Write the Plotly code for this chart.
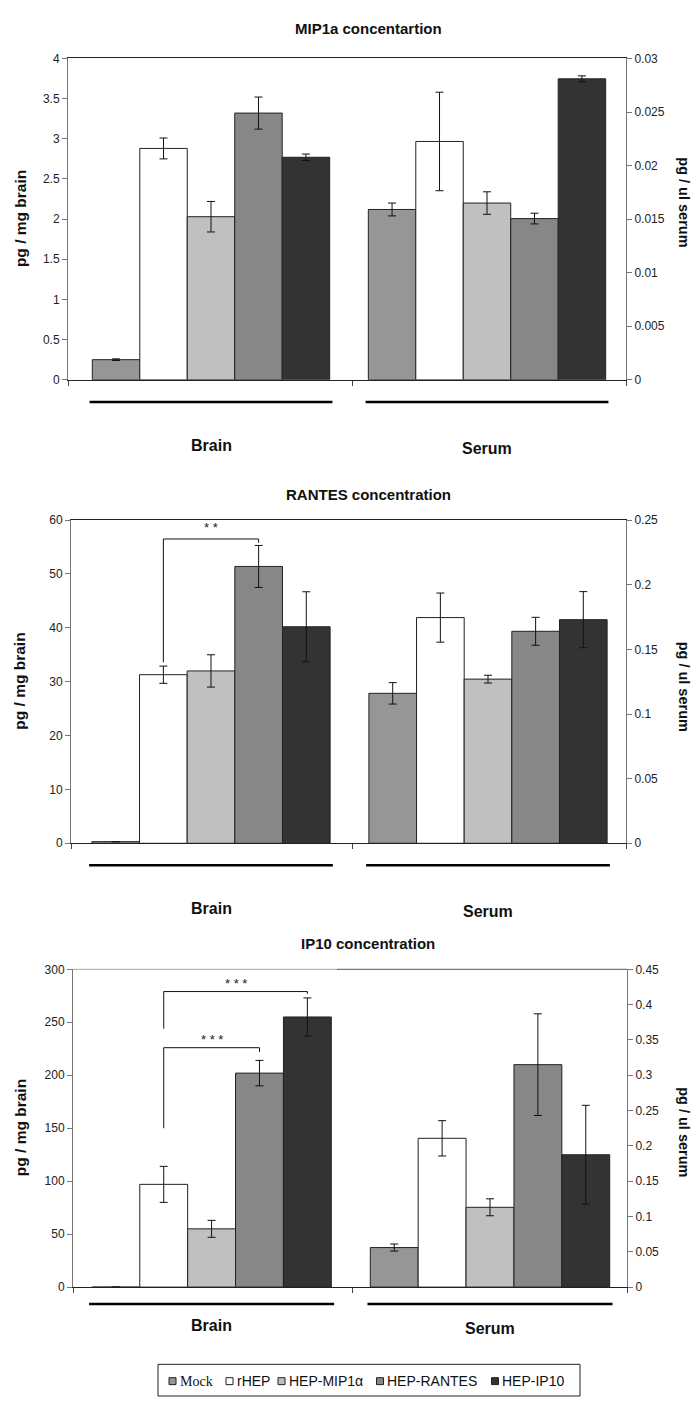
import plotly.graph_objects as go

W, H = 699, 1404

series = ["Mock", "rHEP", "HEP-MIP1α", "HEP-RANTES", "HEP-IP10"]
colors = ["#969696", "#FFFFFF", "#C0C0C0", "#878787", "#333333"]
groups = ["Brain", "Serum"]

# MIP1a
mip_brain = [0.25, 2.88, 2.03, 3.32, 2.77]
mip_brain_err = [0.01, 0.13, 0.19, 0.20, 0.04]
mip_serum = [0.0159, 0.02225, 0.0165, 0.01505, 0.0281]
mip_serum_err = [0.0006, 0.0046, 0.00105, 0.0005, 0.00028]

# RANTES
rantes_brain = [0.3, 31.3, 32.0, 51.4, 40.2]
rantes_brain_err = [0.0, 1.6, 3.0, 3.9, 6.5]
rantes_serum = [0.116, 0.1746, 0.127, 0.164, 0.173]
rantes_serum_err = [0.0083, 0.019, 0.003, 0.0108, 0.0217]

# IP10
ip10_brain = [0.0, 97.0, 55.0, 202.0, 255.0]
ip10_brain_err = [0.0, 17.0, 8.0, 12.0, 18.0]
ip10_serum = [0.056, 0.2107, 0.113, 0.315, 0.1874]
ip10_serum_err = [0.005, 0.025, 0.012, 0.072, 0.07]

charts = [
    dict(title="MIP1a concentartion", brain=mip_brain, brain_err=mip_brain_err,
         serum=mip_serum, serum_err=mip_serum_err, ymax=4, dtick=0.5, y2max=0.03, y2dtick=0.005,
         title_y=22, top=52, zero=376.5, ul=399, lab=(443, 446), left=68, right=626, bc=211, sc=487,
         rt_off=-17, top_line=None, brackets=[], stars=[]),
    dict(title="RANTES concentration", brain=rantes_brain, brain_err=rantes_brain_err,
         serum=rantes_serum, serum_err=rantes_serum_err, ymax=60, dtick=10, y2max=0.25, y2dtick=0.05,
         title_y=492, top=518.3, zero=844.7, ul=867, lab=(911, 914), left=71, right=626, bc=211, sc=488,
         rt_off=5, top_line=None, brackets=[(1, 3, 56.5, 33.6, 55.8)], stars=[(2, 58.6, "* *")]),
    dict(title="IP10 concentration", brain=ip10_brain, brain_err=ip10_brain_err,
         serum=ip10_serum, serum_err=ip10_serum_err, ymax=300, dtick=50, y2max=0.45, y2dtick=0.05,
         title_y=946, top=972, zero=1293, ul=1310, lab=(1332, 1335), left=73, right=627, bc=211.6, sc=490,
         rt_off=4, top_line=337, brackets=[(1, 4, 279, 244, 276.8), (1, 3, 226, 150, 222)],
         stars=[(2.5, 287, "* * *"), (2, 234, "* * *")]),
]

BW = 0.172  # bar width in category units
FONT = "Liberation Sans, Arial, sans-serif"

fig = go.Figure()
layout = dict(width=W, height=H, margin=dict(l=0, r=0, t=0, b=0),
              paper_bgcolor="white", plot_bgcolor="white", showlegend=False,
              shapes=[], annotations=[])


def py(v):
    return 1 - v / H


def ann(text, x, y, size, xref="paper", yref="paper", angle=0, family=FONT, color="#111",
        xanchor="center"):
    return dict(text=text, x=x, y=y, xref=xref, yref=yref, textangle=angle, showarrow=False,
                xanchor=xanchor, yanchor="middle", font=dict(family=family, size=size, color=color))


for k, c in enumerate(charts):
    n = k + 1
    xa = "x" if n == 1 else f"x{n}"
    ya = "y" if n == 1 else f"y{2*n-1}"
    yb = f"y{2*n}"
    unit = c["sc"] - c["bc"]
    lo = -(c["bc"] - c["left"]) / unit
    hi = 1 + (c["right"] - c["sc"]) / unit
    mid = (352 - c["bc"]) / unit
    offs = [(i - 2) * BW for i in range(len(series))]

    fig.add_trace(go.Bar(
        x=[0 + o for o in offs], y=c["brain"], width=BW,
        marker=dict(color=colors, line=dict(color="#222222", width=1)),
        error_y=dict(type="data", array=c["brain_err"], color="#111111", thickness=1, width=4),
        xaxis=xa, yaxis=ya, name="Brain", hoverinfo="y"))
    fig.add_trace(go.Bar(
        x=[1 + o for o in offs], y=c["serum"], width=BW,
        marker=dict(color=colors, line=dict(color="#222222", width=1)),
        error_y=dict(type="data", array=c["serum_err"], color="#111111", thickness=1, width=4),
        xaxis=xa, yaxis=yb, name="Serum", hoverinfo="y"))

    dom_y = [py(c["zero"]), py(c["top"])]
    dom_x = [c["left"] / W, c["right"] / W]
    layout["xaxis" if n == 1 else f"xaxis{n}"] = dict(
        domain=dom_x, anchor=ya, range=[lo, hi], tickvals=[lo, mid, hi],
        ticks="outside", ticklen=5, tickcolor="#444", showticklabels=False,
        showline=True, linecolor="#222", linewidth=1, mirror=c["top_line"] is None,
        showgrid=False, zeroline=False, fixedrange=True)
    layout["yaxis" if n == 1 else f"yaxis{2*n-1}"] = dict(
        domain=dom_y, anchor=xa, range=[0, c["ymax"]], dtick=c["dtick"],
        ticks="outside", ticklen=5, tickcolor="#777", showline=True, linecolor="#777",
        linewidth=1, showgrid=False, zeroline=False,
        tickfont=dict(family=FONT, size=12, color="#222"))
    layout[f"yaxis{2*n}"] = dict(
        overlaying=ya, side="right", anchor=xa, range=[0, c["y2max"]], dtick=c["y2dtick"],
        ticks="outside", ticklen=5, tickcolor="#777", showline=True, linecolor="#777",
        linewidth=1, showgrid=False, zeroline=False,
        tickfont=dict(family=FONT, size=12, color="#222"))

    if c["top_line"] is not None:
        split = c["top_line"]
        for x0, x1, col in [(c["left"], split, "#bbbbbb"), (split, c["right"], "#777777")]:
            layout["shapes"].append(dict(type="line", xref="paper", yref="paper",
                                         x0=x0 / W, x1=x1 / W, y0=py(c["top"]), y1=py(c["top"]),
                                         line=dict(color=col, width=1.2)))

    layout["annotations"].append(ann(f"<b>{c['title']}</b>", 368 / W, py(c["title_y"]), 15))
    ymid = (c["top"] + c["zero"]) / 2
    layout["annotations"].append(ann("<b>pg / mg brain</b>", 20 / W, py(ymid), 15.5, angle=-90))
    layout["annotations"].append(ann("<b>pg / ul serum</b>", 684 / W, py(ymid + c["rt_off"]), 14.5, angle=90))

    for g, name in enumerate(groups):
        layout["shapes"].append(dict(
            type="line", xref=xa, yref="paper", x0=g - 0.44, x1=g + 0.44,
            y0=py(c["ul"]), y1=py(c["ul"]), line=dict(color="#000", width=2.5)))
        layout["annotations"].append(ann(f"<b>{name}</b>", g, py(c["lab"][g]), 16, xref=xa))

    for (i0, i1, ytop, yl, yr) in c["brackets"]:
        xl, xr = offs[i0], offs[i1]
        for x0, y0, x1, y1 in [(xl, yl, xl, ytop), (xl, ytop, xr, ytop), (xr, ytop, xr, yr)]:
            layout["shapes"].append(dict(type="line", xref=xa, yref=ya, x0=x0, y0=y0,
                                         x1=x1, y1=y1, line=dict(color="#111", width=1)))
    for (xi, yv, txt) in c["stars"]:
        layout["annotations"].append(ann(txt, (xi - 2) * BW, yv, 13, xref=xa, yref=ya, color="#222"))

# legend box
leg_top, leg_bot = 1371, 1403
layout["shapes"].append(dict(type="rect", xref="paper", yref="paper",
                             x0=158 / W, x1=580 / W, y0=py(leg_bot), y1=py(leg_top),
                             line=dict(color="#222", width=1), fillcolor="white"))
leg_sq = [172.5, 229.5, 281.5, 380, 495]
leg_fonts = ["Liberation Serif, Times New Roman, serif", FONT, FONT, FONT, FONT]
ly = 1388
for i, name in enumerate(series):
    layout["shapes"].append(dict(type="rect", xref="paper", yref="paper",
                                 x0=(leg_sq[i] - 3.5) / W, x1=(leg_sq[i] + 3.5) / W,
                                 y0=py(ly + 3.5), y1=py(ly - 3.5),
                                 line=dict(color="#222", width=1), fillcolor=colors[i]))
    layout["annotations"].append(ann(name, (leg_sq[i] + 5) / W, py(ly), 14,
                                     family=leg_fonts[i], xanchor="left"))

fig.update_layout(**layout)
fig.write_html("out.html")
